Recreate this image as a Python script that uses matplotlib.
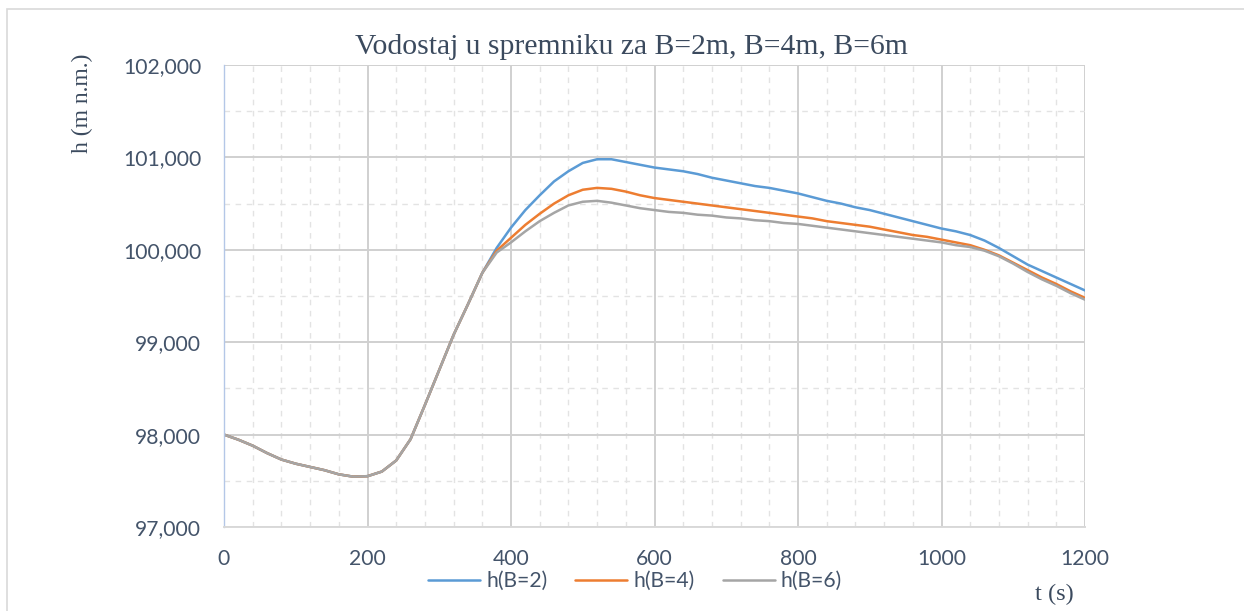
import matplotlib
matplotlib.use("Agg")
import matplotlib.pyplot as plt
from matplotlib.patches import Rectangle
from matplotlib.ticker import MultipleLocator, FuncFormatter

t = list(range(0, 1201, 20))

common = [98.00, 97.945, 97.88, 97.80, 97.73, 97.685, 97.65, 97.615, 97.57, 97.545,
          97.55, 97.60, 97.72, 97.95, 98.32, 98.70, 99.08, 99.41, 99.75]

h_b2 = common + [100.02, 100.24, 100.43, 100.59, 100.74, 100.85, 100.94, 100.98, 100.98, 100.95,
                 100.92, 100.89, 100.87, 100.85, 100.82, 100.78, 100.75, 100.72, 100.69, 100.67,
                 100.64, 100.61, 100.57, 100.53, 100.50, 100.46, 100.43, 100.39, 100.35, 100.31,
                 100.27, 100.23, 100.20, 100.16, 100.10, 100.02, 99.93, 99.84, 99.77, 99.70,
                 99.63, 99.56]
h_b4 = common + [99.99, 100.13, 100.27, 100.39, 100.50, 100.59, 100.65, 100.67, 100.66, 100.63,
                 100.59, 100.56, 100.54, 100.52, 100.50, 100.48, 100.46, 100.44, 100.42, 100.40,
                 100.38, 100.36, 100.34, 100.31, 100.29, 100.27, 100.25, 100.22, 100.19, 100.16,
                 100.14, 100.11, 100.08, 100.05, 100.00, 99.94, 99.86, 99.78, 99.70, 99.63,
                 99.55, 99.48]
h_b6 = common + [99.97, 100.08, 100.20, 100.31, 100.40, 100.48, 100.52, 100.53, 100.51, 100.48,
                 100.45, 100.43, 100.41, 100.40, 100.38, 100.37, 100.35, 100.34, 100.32, 100.31,
                 100.29, 100.28, 100.26, 100.24, 100.22, 100.20, 100.18, 100.16, 100.14, 100.12,
                 100.10, 100.08, 100.05, 100.03, 99.99, 99.93, 99.85, 99.76, 99.68, 99.61,
                 99.53, 99.46]

labels = ["h(B=2)", "h(B=4)", "h(B=6)"]
colors = ["#5B9BD5", "#ED7D31", "#A5A5A5"]
title = "Vodostaj u spremniku za B=2m, B=4m, B=6m"
xlabel = "t (s)"
ylabel = "h (m n.m.)"

W, H = 1244, 611
fig = plt.figure(figsize=(W / 100, H / 100), dpi=100)
fig.patches.append(Rectangle((7 / W, -0.1), 1.2, 1 - 9 / H + 0.1, transform=fig.transFigure,
                             fill=False, edgecolor="#D9D9D9", linewidth=1.2))

ax = fig.add_axes([224 / W, 1 - 527 / H, (1085 - 224) / W, (527 - 65) / H])

for y, lab, c in zip([h_b2, h_b4, h_b6], labels, colors):
    ax.plot(t, y, color=c, linewidth=1.8, label=lab, solid_capstyle="round",
            solid_joinstyle="round")

ax.set_xlim(0, 1200)
ax.set_ylim(97, 102)
ax.xaxis.set_major_locator(MultipleLocator(200))
ax.xaxis.set_minor_locator(MultipleLocator(40))
ax.yaxis.set_major_locator(MultipleLocator(1))
ax.yaxis.set_minor_locator(MultipleLocator(0.5))
ax.yaxis.set_major_formatter(FuncFormatter(lambda v, p: f"{v:.3f}".replace(".", ",")))

ax.grid(which="major", color="#D0D0D0", linewidth=1.4, linestyle="-")
ax.grid(which="minor", color="#E3E3E3", linewidth=1.0, linestyle=(0, (4, 4)))
ax.set_axisbelow(True)
for s in ["top", "right"]:
    ax.spines[s].set_visible(False)
ax.spines["left"].set_color("#B4C7E7")
ax.spines["left"].set_linewidth(1.0)
ax.spines["bottom"].set_color("#D9D9D9")
ax.spines["bottom"].set_linewidth(1.4)
ax.tick_params(which="both", length=0)
ax.tick_params(axis="y", pad=16.5)
ax.tick_params(axis="x", pad=16)
for lab in ax.get_xticklabels() + ax.get_yticklabels():
    lab.set_fontfamily("Lato")
    lab.set_fontsize(15.2)
    lab.set_color("#44546A")

fig.text(631 / W, 1 - 47 / H, title, ha="center", va="center", fontsize=21.3,
         family="Liberation Serif", color="#3B4A5E")
fig.text(82 / W, 1 - 103.5 / H, ylabel, ha="center", va="center", rotation=90, fontsize=17,
         family="Liberation Serif", color="#3B4A5E")
fig.text(1054 / W, 1 - 594 / H, xlabel, ha="center", va="center", fontsize=17.5,
         family="Liberation Serif", color="#3B4A5E")

leg = fig.legend(loc="center", bbox_to_anchor=(635 / W, 1 - 581 / H), ncol=3, frameon=False,
                 handlelength=2.46, columnspacing=1.33, handletextpad=0.28,
                 borderpad=0, borderaxespad=0,
                 prop={"family": "Lato", "size": 15.2})
for txt in leg.get_texts():
    txt.set_color("#44546A")

fig.savefig("out.png", dpi=100, facecolor="white")
